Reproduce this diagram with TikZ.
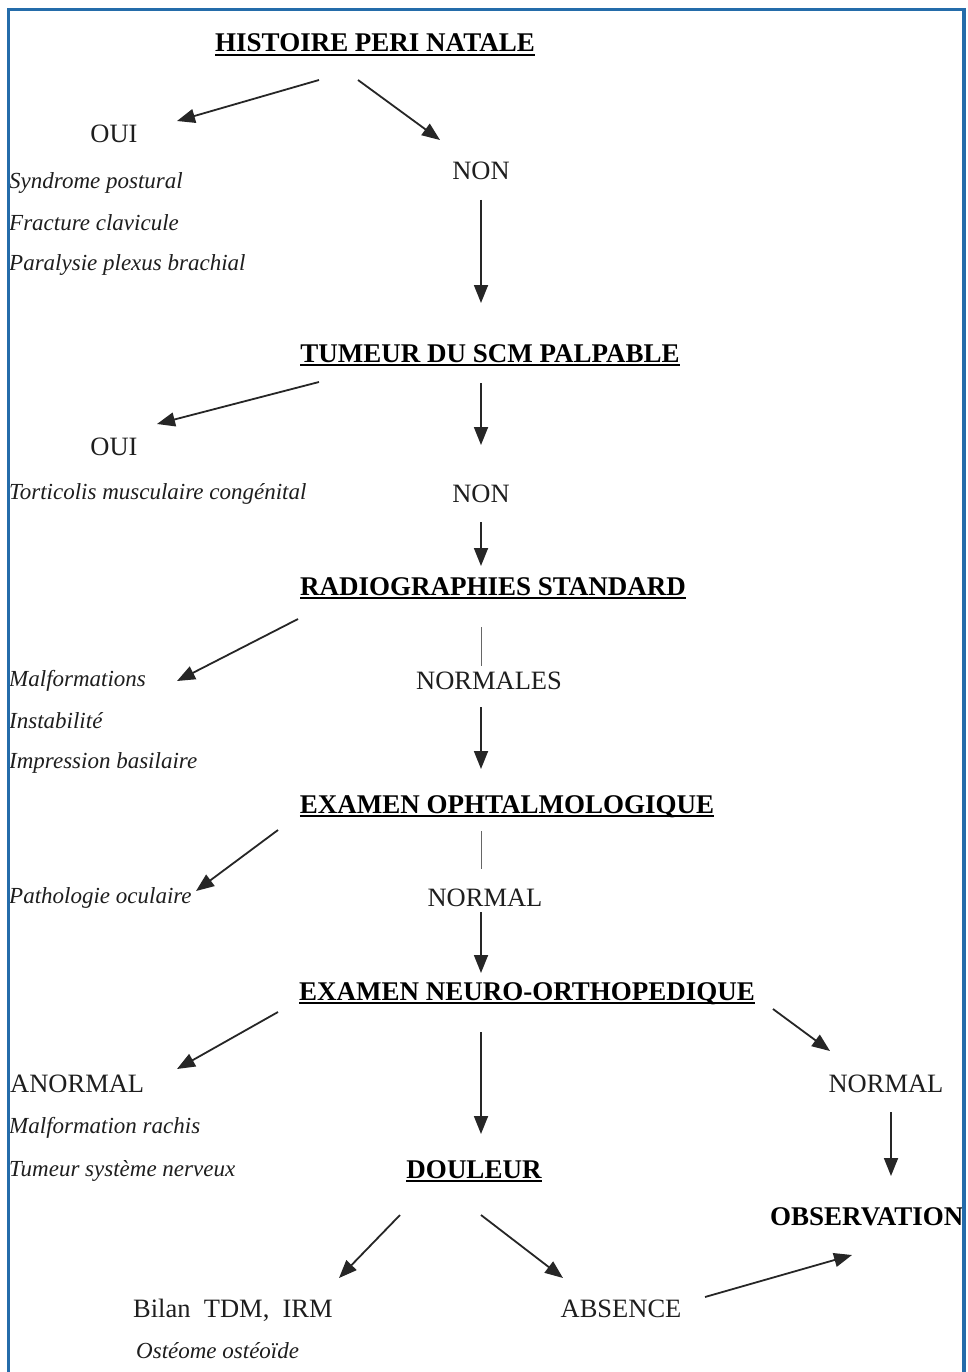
\documentclass[tikz,border=0pt]{standalone}
\usepackage{fontspec}
\setmainfont{Liberation Serif}
\usetikzlibrary{arrows.meta}
\definecolor{framecol}{RGB}{36,108,170}
\definecolor{txt}{RGB}{30,30,30}
\newcommand{\ulhead}[1]{\setbox0\hbox{#1}\rlap{\rule[-0.16em]{\wd0}{0.075em}}\box0}
\tikzset{
  head/.style={font=\fontsize{27}{30}\selectfont\bfseries, text=black, inner sep=0pt, anchor=base},
  lab/.style={font=\fontsize{26.5}{30}\selectfont, text=txt, inner sep=0pt, anchor=base},
  ital/.style={font=\fontsize{23}{26}\selectfont\itshape, text=txt, inner sep=0pt, anchor=base west},
  arr/.style={line width=1.8pt, draw=black!85, -{Triangle[length=18pt,width=14pt]}},
  plain/.style={line width=0.9pt, draw=black!60}
}
\begin{document}
\begin{tikzpicture}[x=1pt,y=-1pt]
\useasboundingbox (0,0) rectangle (968,1372);
\fill[white] (0,0) rectangle (968,1372);
% headings
\node[head] (hist) at (375,52) {\ulhead{HISTOIRE PERI NATALE}};
\node[head] (tum) at (490,362) {\ulhead{TUMEUR DU SCM PALPABLE}};
\node[head] (radio) at (493,595) {\ulhead{RADIOGRAPHIES STANDARD}};
\node[head] (ophta) at (507,813) {\ulhead{EXAMEN OPHTALMOLOGIQUE}};
\node[head] (neuro) at (527,1000) {\ulhead{EXAMEN NEURO-ORTHOPEDIQUE}};
\node[head] (doul) at (474,1178) {\ulhead{DOULEUR}};
\node[head, anchor=base west] (obs) at (770,1225) {OBSERVATION};
% labels
\node[lab] (oui1) at (114,143) {OUI};
\node[lab] (non1) at (481,180) {NON};
\node[lab] (oui2) at (114,455) {OUI};
\node[lab] (non2) at (481,502) {NON};
\node[lab] (normales) at (489,689) {NORMALES};
\node[lab] (normal1) at (485,906) {NORMAL};
\node[lab, anchor=base west] (anormal) at (10,1092) {ANORMAL};
\node[lab] (normal2) at (886,1092) {NORMAL};
\node[lab, anchor=base west] (bilan) at (133,1317) {Bilan\ \ TDM,\ \ IRM};
\node[lab] (absence) at (621,1317) {ABSENCE};
% italic lists
\node[ital] (synd) at (9,189) {Syndrome postural};
\node[ital] (fract) at (9,231) {Fracture clavicule};
\node[ital] (paral) at (9,270) {Paralysie plexus brachial};
\node[ital] (tort) at (9,499) {Torticolis musculaire congénital};
\node[ital] (malf) at (9,686) {Malformations};
\node[ital] (inst) at (9,728) {Instabilité};
\node[ital] (impr) at (9,768) {Impression basilaire};
\node[ital] (patho) at (9,903) {Pathologie oculaire};
\node[ital] (malfr) at (9,1133) {Malformation rachis};
\node[ital] (tumsn) at (9,1176) {Tumeur système nerveux};
\node[ital] (osteo) at (136,1358) {Ostéome ostéoïde};
% connector end points
\coordinate (a1s) at (319,80);  \coordinate (a1e) at (177,121);
\coordinate (a2s) at (358,80);  \coordinate (a2e) at (440,140);
\coordinate (a3s) at (481,200); \coordinate (a3e) at (481,303);
\coordinate (a4s) at (319,382); \coordinate (a4e) at (157,424);
\coordinate (a5s) at (481,383); \coordinate (a5e) at (481,445);
\coordinate (a6s) at (481,522); \coordinate (a6e) at (481,566);
\coordinate (a7s) at (298,619); \coordinate (a7e) at (177,681);
\coordinate (l1s) at (481,627); \coordinate (l1e) at (481,666);
\coordinate (a8s) at (481,707); \coordinate (a8e) at (481,769);
\coordinate (a9s) at (278,830); \coordinate (a9e) at (196,891);
\coordinate (l2s) at (481,831); \coordinate (l2e) at (481,869);
\coordinate (a10s) at (481,912); \coordinate (a10e) at (481,973);
\coordinate (a11s) at (278,1012); \coordinate (a11e) at (177,1069);
\coordinate (a12s) at (481,1032); \coordinate (a12e) at (481,1134);
\coordinate (a13s) at (773,1009); \coordinate (a13e) at (830,1051);
\coordinate (a14s) at (891,1112); \coordinate (a14e) at (891,1176);
\coordinate (a15s) at (400,1215); \coordinate (a15e) at (339,1278);
\coordinate (a16s) at (481,1215); \coordinate (a16e) at (563,1278);
\coordinate (a17s) at (705,1297); \coordinate (a17e) at (852,1255);
% connectors
\draw[arr] (a1s) -- (a1e);
\draw[arr] (a2s) -- (a2e);
\draw[arr] (a3s) -- (a3e);
\draw[arr] (a4s) -- (a4e);
\draw[arr] (a5s) -- (a5e);
\draw[arr] (a6s) -- (a6e);
\draw[arr] (a7s) -- (a7e);
\draw[plain] (l1s) -- (l1e);
\draw[arr] (a8s) -- (a8e);
\draw[arr] (a9s) -- (a9e);
\draw[plain] (l2s) -- (l2e);
\draw[arr] (a10s) -- (a10e);
\draw[arr] (a11s) -- (a11e);
\draw[arr] (a12s) -- (a12e);
\draw[arr] (a13s) -- (a13e);
\draw[arr] (a14s) -- (a14e);
\draw[arr] (a15s) -- (a15e);
\draw[arr] (a16s) -- (a16e);
\draw[arr] (a17s) -- (a17e);
% frame
\draw[framecol, line width=3.5pt] (8.5,1390) -- (8.5,9.5) -- (964,9.5) -- (964,1390);
\end{tikzpicture}
\end{document}
